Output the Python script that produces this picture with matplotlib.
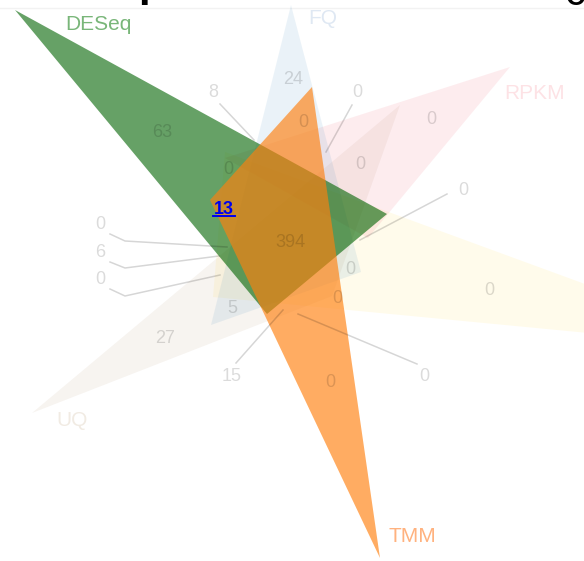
import matplotlib
matplotlib.use("Agg")
import matplotlib.pyplot as plt
from matplotlib.patches import Polygon

plt.rcParams['font.family'] = ['Liberation Sans', 'DejaVu Sans']

# ---- data ----
set_names = ["DESeq", "FQ", "RPKM", "TMM", "UQ", "Other"]
region_counts = [8, 24, 0, 0, 0, 63, 0, 0, 13, 394, 0, 0, 0, 0, 0, 6, 0, 5, 27, 15, 0, 0]

# ---- geometry (pixel space) ----
tri = {
    "Other": [(765, 350), (225, 152), (213, 297)],
    "UQ":    [(32, 413), (400, 105), (332, 296)],
    "RPKM":  [(510, 67), (225, 158), (368, 238)],
    "FQ":    [(291, 5), (211, 325), (361, 272)],
    "DESeq": [(15, 10), (387, 214), (267, 314)],
    "TMM":   [(380, 558), (312, 87), (210, 200)],
}
style = {
    "Other": ((1.0, 0.84, 0.0), 0.08),
    "UQ":    ((0.62, 0.45, 0.25), 0.08),
    "RPKM":  ((0.93, 0.2, 0.3), 0.09),
    "FQ":    ((0.12, 0.47, 0.71), 0.09),
    "DESeq": ((0.0, 0.39, 0.0), 0.6),
    "TMM":   ((1.0, 0.5, 0.055), 0.65),
}
label_pos = {
    "DESeq": (98, 22, '#79b679'),
    "FQ": (323, 16, '#dfe8f3'),
    "RPKM": (535, 91, '#fde2e5'),
    "UQ": (72, 418, '#f1ebe3'),
    "TMM": (412, 534, '#ffb27f'),
}
# count label positions (center) and optional leader lines
num_pos = [(213, 90), (293, 77), (357, 90), (303, 120), (431, 117), (162, 130),
           (360, 162), (228, 167), (224, 207), (290, 240), (463, 188), (350, 267),
           (100, 222), (489, 288), (337, 296), (100, 250), (100, 277), (232, 306),
           (165, 336), (232, 374), (330, 380), (424, 374)]
leaders = {
    0: [(220, 104), (254, 140)],
    2: [(352, 105), (326, 152)],
    10: [(447, 194), (360, 240)],
    12: [(110, 234), (125, 241), (227, 247)],
    15: [(110, 262), (125, 268), (219, 256)],
    16: [(110, 289), (125, 296), (220, 275)],
    19: [(236, 363), (283, 310)],
    21: [(417, 364), (298, 314)],
}

fig = plt.figure(figsize=(5.84, 5.61), dpi=100)
ax = fig.add_axes([0, 0, 1, 1])
ax.set_xlim(0, 584)
ax.set_ylim(561, 0)
ax.axis('off')

for name in ["Other", "UQ", "RPKM", "FQ", "DESeq", "TMM"]:
    col, a = style[name]
    ax.add_patch(Polygon(tri[name], closed=True, facecolor=col, alpha=a,
                         edgecolor='none', zorder=2))

for name, (x, y, c) in label_pos.items():
    ax.text(x, y + 7.5, name, fontsize=15, color=c, ha='center', va='baseline', zorder=5)

for i, pts in leaders.items():
    xs = [p[0] for p in pts]
    ys = [p[1] for p in pts]
    ax.plot(xs, ys, color='black', alpha=0.16, lw=1.1, zorder=4)

for i, (cnt, (x, y)) in enumerate(zip(region_counts, num_pos)):
    if i == 8:
        ax.text(x, y + 6.5, str(cnt), fontsize=13, color='#0000ee', fontweight='bold',
                ha='center', va='baseline', zorder=6)
        ax.plot([x - 11, x + 11], [y + 8.5, y + 8.5], color='#0000ee', lw=1.4, zorder=6)
    else:
        ax.text(x, y + 6.5, str(cnt), fontsize=13, color='black', alpha=0.14,
                ha='center', va='baseline', zorder=6)

# cut-off title fragments and top rule
ax.axhline(7.5, color='#f2f2f2', lw=1, zorder=1)
ax.text(144, 5, "l", fontsize=30, fontweight='bold', color='black', ha='center', va='baseline', zorder=7)
ax.text(575, 5, "c", fontsize=30, color='black', ha='center', va='baseline', zorder=7)

fig.savefig("out.png", dpi=100)
